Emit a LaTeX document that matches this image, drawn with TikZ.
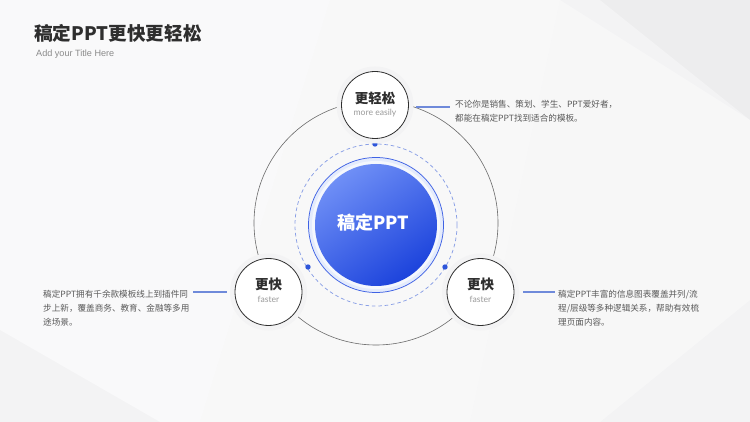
\documentclass[tikz,border=0pt]{standalone}
\usepackage{fontspec}
\setmainfont{Noto Sans CJK SC}
\newfontfamily\latinlight{Lato}
\newfontfamily\arialf{Liberation Sans}
\definecolor{bgc}{HTML}{F3F3F4}
\definecolor{titlec}{HTML}{2E2E2E}
\definecolor{subc}{HTML}{8A8A8A}
\definecolor{bodyc}{HTML}{5A5A5A}
\definecolor{ringc}{HTML}{6A6A6A}
\definecolor{nodel}{HTML}{2F2F2F}
\definecolor{connc}{HTML}{6F8ADA}
\definecolor{dashc}{HTML}{8AA0E6}
\definecolor{dotc}{HTML}{2E56DA}
\definecolor{glowc}{HTML}{E4EBFC}
\definecolor{corel}{HTML}{3F62E4}
\definecolor{blueA}{HTML}{6F8FF6}
\definecolor{blueB}{HTML}{1C43DC}
\definecolor{greyt}{HTML}{9A9A9A}
\tikzset{
  halo/.style={fill=bgc},
  feat/.style={circle, minimum size=67pt, inner sep=0pt, fill=white, draw=nodel, line width=0.8pt},
  feattitle/.style={inner sep=0pt, text=titlec, font=\bfseries\fontsize{13.5}{15}\selectfont},
  featsub/.style={inner sep=0pt, text=greyt, font=\latinlight\fontsize{8.6}{10}\selectfont},
  body/.style={inner sep=0pt, text=bodyc, align=left, font=\fontsize{8.6}{14.2}\selectfont},
  conn/.style={draw=connc, line width=1.4pt},
  dotn/.style={circle, fill=dotc, minimum size=5.4pt, inner sep=0pt},
}
\begin{document}
\begin{tikzpicture}[x=1pt,y=-1pt]
\useasboundingbox (0,0) rectangle (750,422);
% background
\fill[bgc] (0,0) rectangle (750,422);
\fill[white,opacity=0.55] (0,0) -- (330,0) -- (200,422) -- (0,422) -- cycle;
\fill[white,opacity=0.45] (330,0) -- (560,0) -- (470,422) -- (200,422) -- cycle;
\fill[white,opacity=0.35] (560,0) -- (750,120) -- (750,300) -- (600,422) -- (470,422) -- cycle;
\fill[black,opacity=0.025] (600,0) -- (750,0) -- (750,120) -- cycle;
\fill[black,opacity=0.025] (0,330) -- (160,422) -- (0,422) -- cycle;
% title
\node[inner sep=0pt, anchor=west, text=titlec, font=\bfseries\fontsize{18.6}{22}\selectfont] (title) at (34,33) {稿定PPT更快更轻松};
\node[inner sep=0pt, anchor=west, text=subc, font=\arialf\fontsize{9.1}{11}\selectfont] (subtitle) at (36,54) {Add your Title Here};
% outer ring
\draw[ringc, line width=0.6pt] (376,223) circle (122pt);
% dashed ring
\draw[dashc, line width=0.75pt, dash pattern=on 3.6pt off 2.8pt] (376,225) circle (81pt);
% core
\fill[glowc] (376,225) circle (67.5pt);
\draw[corel, line width=0.75pt] (376,225) circle (67.5pt);
\fill[white,opacity=0.6] (376,225) circle (64pt);
\node[circle, minimum size=122pt, inner sep=0pt, top color=blueA, bottom color=blueB, shading angle=35] (core) at (376,225) {};
\node[inner sep=0pt, text=white, font=\bfseries\fontsize{18}{20}\selectfont] (corelabel) at (373.5,223) {稿定PPT};
% dots
\node[dotn] (dtop) at (375,144) {};
\node[dotn] (dleft) at (308,267) {};
\node[dotn] (dright) at (445,267) {};
% feature nodes
\fill[halo] (375,105) circle (38.5pt);
\fill[halo] (268.5,292) circle (38.5pt);
\fill[halo] (480.5,292) circle (38.5pt);
\node[feat] (ntop) at (375,105) {};
\node[feat] (nleft) at (268.5,292) {};
\node[feat] (nright) at (480.5,292) {};
\node[feattitle] (ttop1) at (375,98) {更轻松};
\node[featsub] (ttop2) at (375,113) {more easily};
\node[feattitle] (tleft1) at (268.5,284) {更快};
\node[featsub] (tleft2) at (268.5,299.5) {faster};
\node[feattitle] (tright1) at (480.5,284) {更快};
\node[featsub] (tright2) at (480.5,299.5) {faster};
% body texts
\node[body, anchor=north west] (btop) at (455,100) {不论你是销售、策划、学生、PPT爱好者，\\都能在稿定PPT找到适合的模板。};
\node[body, anchor=north west] (bleft) at (43,290) {稿定PPT拥有千余款模板线上到插件同\\步上新，覆盖商务、教育、金融等多用\\途场景。};
\node[body, anchor=north west] (bright) at (558,290) {稿定PPT丰富的信息图表覆盖并列/流\\程/层级等多种逻辑关系，帮助有效梳\\理页面内容。};
% connectors
\draw[conn, shorten <=7pt, shorten >=5pt] ([yshift=-2pt]ntop.east) -- ([yshift=-2pt]ntop.east -| btop.west);
\draw[conn, shorten <=8pt, shorten >=3pt] (nleft.west) -- (nleft.west -| bleft.east);
\draw[conn, shorten <=9pt, shorten >=3pt] (nright.east) -- (nright.east -| bright.west);
\end{tikzpicture}
\end{document}
